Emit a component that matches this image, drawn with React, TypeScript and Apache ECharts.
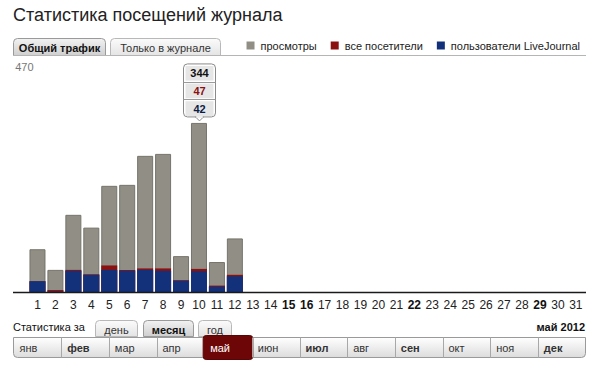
import React, { useEffect, useRef } from "react";
import * as echarts from "echarts";

const days = ["1","2","3","4","5","6","7","8","9","10","11","12","13","14","15","16","17","18","19","20","21","22","23","24","25","26","27","28","29","30","31"];
const boldDays = ["15", "16", "22", "29"];
const views = [87, 45, 157, 131, 216, 218, 277, 281, 73, 344, 61, 109];
const visitors = [22, 4, 45, 36, 54, 45, 48, 48, 24, 47, 13, 35];
const ljUsers = [22, 1, 43, 35, 45, 43, 45, 43, 23, 42, 11, 32];
const seriesNames = ["просмотры", "все посетители", "пользователи LiveJournal"];
const months = ["янв", "фев", "мар", "апр", "май", "июн", "июл", "авг", "сен", "окт", "ноя", "дек"];
const boldMonths = ["фев", "июл", "сен", "дек"];
const selectedMonth = "май";
const tooltipIndex = 9;
const yMax = 470;

const FONT = 'Arial, "Liberation Sans", Helvetica, sans-serif';
const GRAY = "#918f85";
const RED = "#8b1010";
const BLUE = "#12317a";

function tab(id: string, x: number, y: number, w: number, h: number, label: string, active: boolean) {
  return {
    type: "group",
    id,
    children: [
      {
        type: "rect",
        shape: { x, y, width: w, height: h, r: [4, 4, 0, 0] },
        style: {
          fill: new echarts.graphic.LinearGradient(0, 0, 0, 1, active
            ? [{ offset: 0, color: "#f2f2f2" }, { offset: 1, color: "#cfcfcf" }]
            : [{ offset: 0, color: "#fbfbfb" }, { offset: 1, color: "#e4e4e4" }]),
          stroke: active ? "#9a9a9a" : "#b8b8b8",
          lineWidth: 1,
        },
      },
      {
        type: "text",
        style: {
          x: x + w / 2,
          y: y + h / 2 + 1,
          text: label,
          align: "center",
          verticalAlign: "middle",
          font: `${active ? "bold " : ""}11px ${FONT}`,
          fill: active ? "#111" : "#333",
        },
      },
    ],
  };
}

function staticGraphics() {
  const g: any[] = [];
  g.push({
    type: "text", id: "title",
    style: { x: 13, y: 15, text: "Статистика посещений журнала", verticalAlign: "middle", font: `18px ${FONT}`, fill: "#222" },
  });
  g.push(tab("tab1", 13.5, 38.5, 92, 17, "Общий трафик", true));
  g.push(tab("tab2", 110.5, 38.5, 110, 17, "Только в журнале", false));
  g.push({ type: "line", id: "topline", shape: { x1: 13, y1: 55.5, x2: 586, y2: 55.5 }, style: { stroke: "#b5b5b5", lineWidth: 1 } });

  g.push({
    type: "text", id: "statfor",
    style: { x: 13, y: 327, text: "Статистика за", verticalAlign: "middle", font: `11px ${FONT}`, fill: "#111" },
  });
  g.push(tab("tday", 95.5, 320.5, 42, 16, "день", false));
  g.push(tab("tmonth", 143.5, 320.5, 50, 16, "месяц", true));
  g.push(tab("tyear", 198.5, 320.5, 33, 16, "год", false));
  g.push({
    type: "text", id: "curmonth",
    style: { x: 585, y: 327, text: "май 2012", align: "right", verticalAlign: "middle", font: `bold 11px ${FONT}`, fill: "#111" },
  });

  const bx = 13.5, by = 337.5, bw = 572, bh = 20;
  g.push({
    type: "rect", id: "mbar",
    shape: { x: bx, y: by, width: bw, height: bh, r: [0, 0, 4, 4] },
    style: {
      fill: new echarts.graphic.LinearGradient(0, 0, 0, 1, [{ offset: 0, color: "#ffffff" }, { offset: 1, color: "#dcdcdc" }]),
      stroke: "#9a9a9a", lineWidth: 1,
    },
  });
  const cw = bw / months.length;
  months.forEach((m, i) => {
    const x0 = bx + i * cw;
    if (i > 0) {
      g.push({ type: "line", id: "msep" + i, shape: { x1: Math.round(x0) + 0.5, y1: by, x2: Math.round(x0) + 0.5, y2: by + bh }, style: { stroke: "#a8a8a8", lineWidth: 1 } });
    }
    if (m === selectedMonth) {
      g.push({
        type: "rect", id: "msel",
        shape: { x: x0 - 1, y: by - 2, width: cw + 2, height: bh + 4, r: 3 },
        style: { fill: "#6d0707", stroke: "#5a0505" },
      });
    }
    g.push({
      type: "text", id: "mtxt" + i,
      style: {
        x: x0 + 6, y: by + bh / 2, text: m, verticalAlign: "middle",
        font: `${boldMonths.includes(m) ? "bold " : ""}11px ${FONT}`,
        fill: m === selectedMonth ? "#ffffff" : "#333",
      },
    });
  });
  return g;
}

export default function App() {
  const ref = useRef<HTMLDivElement>(null);
  useEffect(() => {
    if (!ref.current) return;
    const chart = echarts.init(ref.current, undefined, { renderer: "svg" });
    chart.setOption({
      animation: false,
      backgroundColor: "#ffffff",
      grid: { left: 28.5, right: 15.2, top: 61, bottom: 79 },
      legend: {
        right: 15, top: 35, itemWidth: 8, itemHeight: 8, itemGap: 14, icon: "rect",
        data: seriesNames,
        itemStyle: { borderWidth: 0 },
        textStyle: { fontSize: 11, color: "#222", fontFamily: FONT, padding: [0, 0, 0, 1] },
      },
      xAxis: {
        type: "category",
        data: days,
        axisLine: { show: false },
        axisTick: { show: false },
        axisLabel: {
          interval: 0, margin: 7, fontSize: 12, color: "#222", fontFamily: FONT,
          formatter: (v: string) => (boldDays.includes(v) ? `{b|${v}}` : v),
          rich: { b: { fontWeight: "bold", fontSize: 12, color: "#111", fontFamily: FONT } },
        },
      },
      yAxis: {
        type: "value", min: 0, max: yMax, interval: yMax,
        splitLine: { show: false }, axisLine: { show: false }, axisTick: { show: false },
        axisLabel: {
          formatter: (v: number) => (v === yMax ? String(yMax) : ""),
          margin: -5, verticalAlign: "top", color: "#777", fontSize: 11, fontFamily: FONT,
        },
      },
      series: [
        { name: seriesNames[0], type: "bar", data: views, barWidth: 16, barGap: "-100%", itemStyle: { color: GRAY, borderColor: "#76746b", borderWidth: 1 } },
        { name: seriesNames[1], type: "bar", data: visitors, barWidth: 16, barGap: "-100%", itemStyle: { color: RED } },
        { name: seriesNames[2], type: "bar", data: ljUsers, barWidth: 16, barGap: "-100%", itemStyle: { color: BLUE } },
      ],
      graphic: staticGraphics(),
    });

    const base = chart.convertToPixel({ seriesIndex: 0 }, [0, 0]) as number[];
    const tip = chart.convertToPixel({ seriesIndex: 0 }, [tooltipIndex, views[tooltipIndex]]) as number[];
    const cx = Math.round(tip[0]) + 0.5;
    const tipY = tip[1] - 2;
    const boxB = tipY - 4;
    const boxH = 53;
    const boxT = boxB - boxH;
    const boxW = 32;
    const rowH = boxH / 3;
    const vals = [views[tooltipIndex], visitors[tooltipIndex], ljUsers[tooltipIndex]];
    const cols = ["#111", RED, "#0c1c45"];
    const tt: any[] = [];
    tt.push({
      type: "rect", id: "ttbox",
      shape: { x: cx - boxW / 2, y: boxT, width: boxW, height: boxH, r: 4 },
      style: { fill: "#ffffff", stroke: "#8a8a8a", lineWidth: 1 }, z: 100,
    });
    vals.forEach((v, i) => {
      tt.push({
        type: "rect", id: "ttrow" + i,
        shape: { x: cx - boxW / 2 + 2, y: boxT + i * rowH + 2, width: boxW - 4, height: rowH - 3 },
        style: { fill: "#e6e6e6" }, z: 101,
      });
      if (i > 0) {
        tt.push({
          type: "line", id: "ttsep" + i,
          shape: { x1: cx - boxW / 2, y1: Math.round(boxT + i * rowH) + 0.5, x2: cx + boxW / 2, y2: Math.round(boxT + i * rowH) + 0.5 },
          style: { stroke: "#9a9a9a", lineWidth: 1 }, z: 102,
        });
      }
      tt.push({
        type: "text", id: "tttxt" + i,
        style: {
          x: cx, y: boxT + i * rowH + rowH / 2 + 0.5, text: String(v), align: "center", verticalAlign: "middle",
          font: `bold 11px ${FONT}`, fill: cols[i],
        }, z: 103,
      });
    });
    tt.push({
      type: "polygon", id: "ttptr",
      shape: { points: [[cx - 4, boxB], [cx, tipY], [cx + 4, boxB]] },
      style: { fill: "#ffffff", stroke: "#8a8a8a", lineWidth: 1 }, z: 104,
    });
    tt.push({
      type: "line", id: "ttcover",
      shape: { x1: cx - 3.3, y1: boxB, x2: cx + 3.3, y2: boxB },
      style: { stroke: "#ffffff", lineWidth: 1.5 }, z: 105,
    });
    tt.push({
      type: "line", id: "xaxisline",
      shape: { x1: 13, y1: Math.round(base[1]) + 0.5, x2: 586, y2: Math.round(base[1]) + 0.5 },
      style: { stroke: "#1a1a1a", lineWidth: 1.5 }, z: 10,
    });
    chart.setOption({ graphic: tt });

    return () => chart.dispose();
  }, []);
  return (
    <div
      ref={ref}
      style={{ position: "absolute", left: 0, top: 0, width: 600, height: 371 }}
    />
  );
}
